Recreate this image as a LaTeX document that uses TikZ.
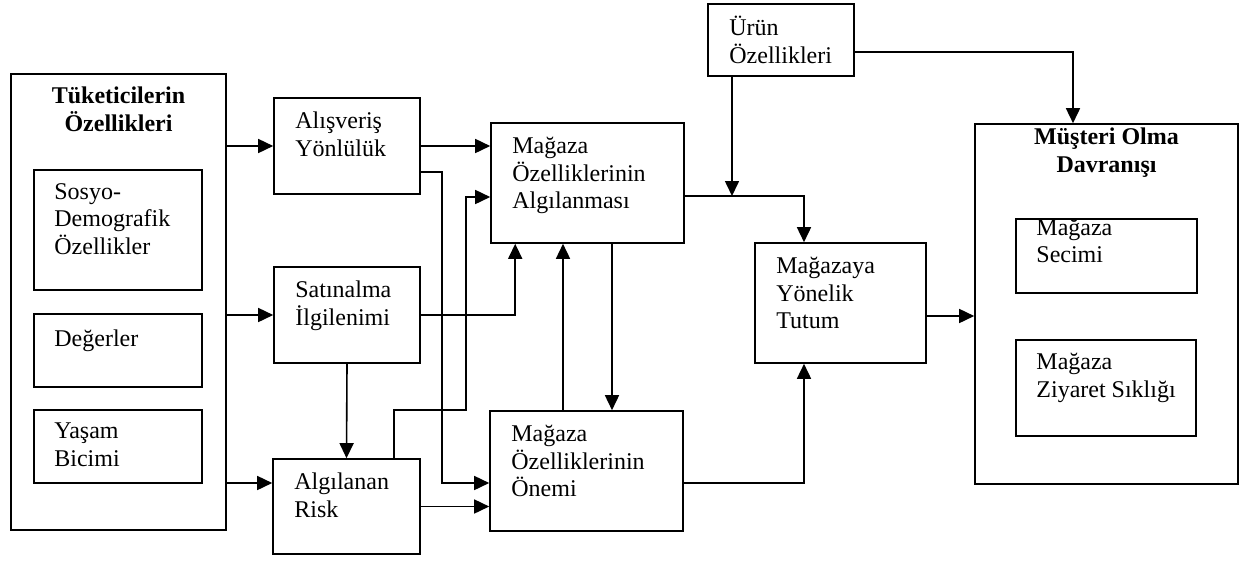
\documentclass[tikz,border=0pt]{standalone}
\usepackage{fontspec}
\setmainfont{Liberation Serif}
\usetikzlibrary{arrows.meta}
\tikzset{
  kutu/.style={draw, line width=1.6pt, inner sep=0pt},
  yazi/.style={anchor=north west, align=left, inner sep=0pt, execute at begin node=\strut},
  baslik/.style={anchor=north, align=center, inner sep=0pt, font=\bfseries, execute at begin node=\strut},
  ok/.style={line width=1.6pt, -{Triangle[length=15pt,width=14pt]}},
}
\begin{document}
\begin{tikzpicture}[x=1pt, y=-1pt]
\fontsize{24}{27.5}\selectfont
\useasboundingbox (0,0) rectangle (1247,560);
% consumer characteristics
\node[kutu, minimum width=215pt, minimum height=456pt] (tuk) at (118.5,302) {};
\node[baslik] (tukbaslik) at ([yshift=-13.75pt]tuk.north) {Tüketicilerin\\Özellikleri};
\node[kutu, minimum width=168pt, minimum height=120pt] (sosyo) at (118,230) {};
\node[kutu, minimum width=168pt, minimum height=73pt] (deger) at (118,350.5) {};
\node[kutu, minimum width=168pt, minimum height=73pt] (yasam) at (118,446.5) {};
\node[yazi] (sosyoyazi) at ([shift={(21pt,-13.75pt)}]sosyo.north west) {Sosyo-\\Demografik\\Özellikler};
\node[yazi] (degeryazi) at ([shift={(21pt,-13.75pt)}]deger.north west) {Değerler};
\node[yazi] (yasamyazi) at ([shift={(21pt,-13.75pt)}]yasam.north west) {Yaşam\\Bicimi};
% middle column
\node[kutu, minimum width=146pt, minimum height=96pt] (alis) at (347,146) {};
\node[kutu, minimum width=146pt, minimum height=96pt] (satin) at (347,315) {};
\node[kutu, minimum width=147pt, minimum height=95pt] (alg) at (346.5,506.5) {};
\node[yazi] (alisyazi) at ([shift={(22pt,-14.75pt)}]alis.north west) {Alışveriş\\Yönlülük};
\node[yazi] (satinyazi) at ([shift={(22pt,-14.75pt)}]satin.north west) {Satınalma\\İlgilenimi};
\node[yazi] (algyazi) at ([shift={(22pt,-14.75pt)}]alg.north west) {Algılanan\\Risk};
% store attributes
\node[kutu, minimum width=193pt, minimum height=120pt] (magalg) at (587.5,183) {};
\node[kutu, minimum width=193pt, minimum height=120pt] (magon) at (586.5,471) {};
\node[yazi] (magalgyazi) at ([shift={(22pt,-14.75pt)}]magalg.north west) {Mağaza\\Özelliklerinin\\Algılanması};
\node[yazi] (magonyazi) at ([shift={(22pt,-14.75pt)}]magon.north west) {Mağaza\\Özelliklerinin\\Önemi};
\node[kutu, minimum width=146pt, minimum height=72pt] (urun) at (781,40) {};
\node[yazi] (urunyazi) at ([shift={(22pt,-12.75pt)}]urun.north west) {Ürün\\Özellikleri};
\node[kutu, minimum width=171pt, minimum height=120pt] (magya) at (840.5,303) {};
\node[yazi] (magyayazi) at ([shift={(22pt,-14.75pt)}]magya.north west) {Mağazaya\\Yönelik\\Tutum};
% patronage behaviour
\node[kutu, minimum width=263pt, minimum height=360pt] (mus) at (1106.5,304) {};
\node[baslik] (musbaslik) at ([yshift=-4.5pt]mus.north) {Müşteri Olma\\Davranışı};
\node[kutu, minimum width=181pt, minimum height=74pt] (secim) at (1106.5,256) {};
\node[kutu, minimum width=180pt, minimum height=96pt] (ziyaret) at (1106,388) {};
\node[yazi] (secimyazi) at ([shift={(21pt,-0.5pt)}]secim.north west) {Mağaza\\Secimi};
\node[yazi] (ziyaretyazi) at ([shift={(21pt,-13.75pt)}]ziyaret.north west) {Mağaza\\Ziyaret Sıklığı};
% helper points
\coordinate (a1) at ([yshift=23.5pt]alg.west);
\coordinate (a2) at ([yshift=-26pt]alis.east);
\coordinate (o1) at ([yshift=-12pt]magon.west);
\coordinate (m1) at ([yshift=-13pt]magalg.east);
\coordinate (m2) at ([yshift=-14pt]magalg.west);
\coordinate (u1) at ([xshift=-49pt]urun.south);
\coordinate (t1) at ([yshift=-13pt]magya.east);
% connectors
\draw[ok] (tuk.east |- alis.west) -- (alis.west);
\draw[ok] (tuk.east |- satin.west) -- (satin.west);
\draw[ok] (a1 -| tuk.east) -- (a1);
\draw[ok] (satin.south) -- (alg.north);
\draw[ok] (alis.east) -- (alis.east -| magalg.west);
\draw[ok] (a2) -| ([xshift=-47pt]o1) -- (o1);
\draw[ok] (satin.east) -| ([xshift=25pt]magalg.south west);
\draw[ok] ([xshift=47.5pt]alg.north) -- ++(0,-48) -| ([xshift=-24pt]m2) -- (m2);
\draw[ok] (alg.east) -- (alg.east -| magon.west);
\draw[ok] ([xshift=-23.5pt]magon.north) -- ([xshift=-23.5pt]magon.north |- magalg.south);
\draw[ok] ([xshift=24.5pt]magalg.south) -- ([xshift=24.5pt]magalg.south |- magon.north);
\draw[ok] (m1) -| ([xshift=-36.5pt]magya.north);
\draw[ok] (u1) -- (u1 |- m1);
\draw[ok] ([yshift=-12pt]urun.east) -| ([xshift=-33.5pt]mus.north);
\draw[ok] ([yshift=-12pt]magon.east) -| ([xshift=-36.5pt]magya.south);
\draw[ok] (t1) -- (t1 -| mus.west);
\end{tikzpicture}
\end{document}
